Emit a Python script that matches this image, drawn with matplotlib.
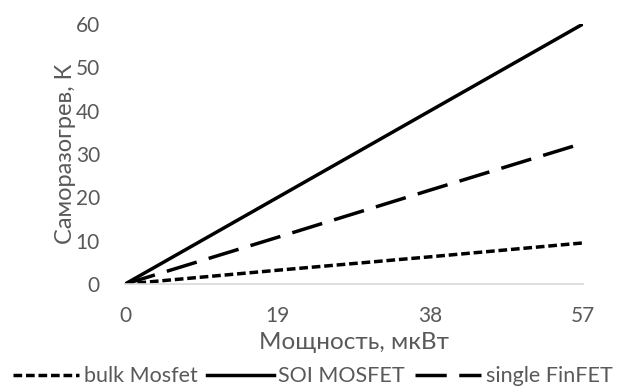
import matplotlib
matplotlib.use("Agg")
import matplotlib.pyplot as plt

x_vals = [0, 19, 38, 57]
x_labels = ["0", "19", "38", "57"]
bulk = [0, 3.2, 6.3, 9.5]
soi = [0, 20, 40, 60]
finfet = [0, 10.8, 21.7, 32.5]

plt.rcParams['font.family'] = ['Lato', 'DejaVu Sans']
gray = '#595959'

fig = plt.figure(figsize=(6.25, 3.86), dpi=100)
ax = fig.add_axes([0.2, 0.264, 0.733, 0.674])

ax.plot(x_vals, bulk, color='black', lw=2.5, linestyle=(0, (2.5, 1.1)), label='bulk Mosfet')
ax.plot(x_vals, soi, color='black', lw=2.5, linestyle='-', label='SOI MOSFET')
ax.plot(x_vals, finfet, color='black', lw=2.5, linestyle=(0, (9, 3.6)), label='single FinFET')

ax.set_xlim(0, 57)
ax.set_ylim(0, 60)
ax.set_xticks(x_vals)
ax.set_xticklabels(x_labels)
ax.set_yticks(range(0, 61, 10))
for s in ['top', 'right', 'left']:
    ax.spines[s].set_visible(False)
ax.spines['bottom'].set_color('#d9d9d9')
ax.spines['bottom'].set_linewidth(1.2)
ax.tick_params(axis='both', length=0, labelsize=15, colors=gray)
ax.tick_params(axis='x', pad=16)
ax.tick_params(axis='y', pad=18)
ax.set_xlabel('Мощность, мкВт', fontsize=17.5, color=gray, labelpad=4)
ax.set_ylabel('Саморазогрев, К', fontsize=17, color=gray, labelpad=0)

leg = fig.legend(loc='center', bbox_to_anchor=(0.5, 0.025), ncol=3, frameon=False,
                 fontsize=15.5, handlelength=3.1, columnspacing=0.45, handletextpad=0.2,
                 borderpad=0, borderaxespad=0)
for t in leg.get_texts():
    t.set_color(gray)

fig.savefig('out.png', dpi=100)
